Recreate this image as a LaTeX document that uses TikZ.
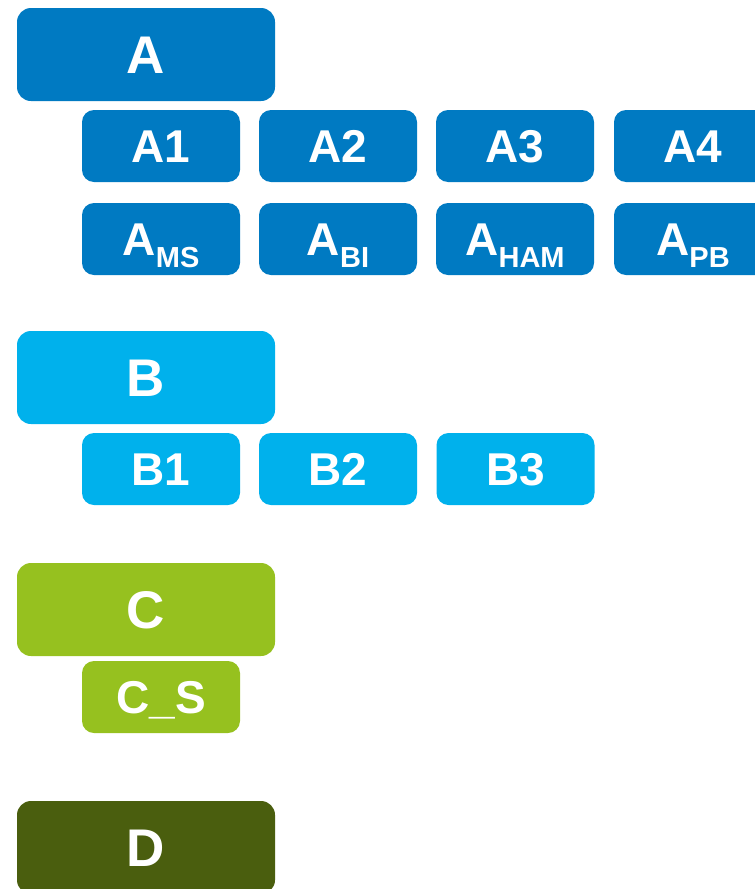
\documentclass[tikz,border=0pt]{standalone}
\usepackage{fontspec}
\setmainfont{Liberation Sans}
\definecolor{cA}{RGB}{0,122,194}
\definecolor{cB}{RGB}{0,177,236}
\definecolor{cC}{RGB}{150,193,31}
\definecolor{cD}{RGB}{74,94,14}
\newcommand{\subtx}[1]{\raisebox{-12pt}{\fontsize{29}{30}\selectfont #1}}
\tikzset{
  bigbox/.style={rounded corners=14pt, minimum width=258pt, minimum height=93pt, inner sep=0pt, text height=38pt, text depth=0pt, text=white, font=\bfseries\fontsize{53}{60}\selectfont},
  smallbox/.style={rounded corners=12pt, minimum width=158pt, minimum height=72pt, inner sep=0pt, text height=33pt, text depth=0pt, text=white, font=\bfseries\fontsize{46}{52}\selectfont},
}
\begin{document}
\begin{tikzpicture}[x=1pt,y=-1pt]
\useasboundingbox (0,0) rectangle (755,889);
\clip (0,0) rectangle (755,889);
\node[bigbox, fill=cA] (A) at (146,54.5) {A};
\node[smallbox, fill=cA] (A1) at (161,146) {A1};
\node[smallbox, fill=cA] (A2) at (338,146) {A2};
\node[smallbox, fill=cA] (A3) at (515,146) {A3};
\node[smallbox, fill=cA] (A4) at (693,146) {A4};
\node[smallbox, fill=cA] (Ams) at (161,239) {A\subtx{MS}};
\node[smallbox, fill=cA] (Abi) at (338,239) {A\subtx{BI}};
\node[smallbox, fill=cA] (Aham) at (515,239) {A\subtx{HAM}};
\node[smallbox, fill=cA] (Apb) at (693,239) {A\subtx{PB}};
\node[bigbox, fill=cB] (B) at (146,377.5) {B};
\node[smallbox, fill=cB] (B1) at (161,469) {B1};
\node[smallbox, fill=cB] (B2) at (338,469) {B2};
\node[smallbox, fill=cB] (B3) at (515.5,469) {B3};
\node[bigbox, fill=cC] (C) at (146,609.5) {C};
\node[smallbox, fill=cC] (CS) at (161,697) {C\symbol{95}S};
\node[bigbox, fill=cD] (D) at (146,847.5) {D};
\end{tikzpicture}
\end{document}
